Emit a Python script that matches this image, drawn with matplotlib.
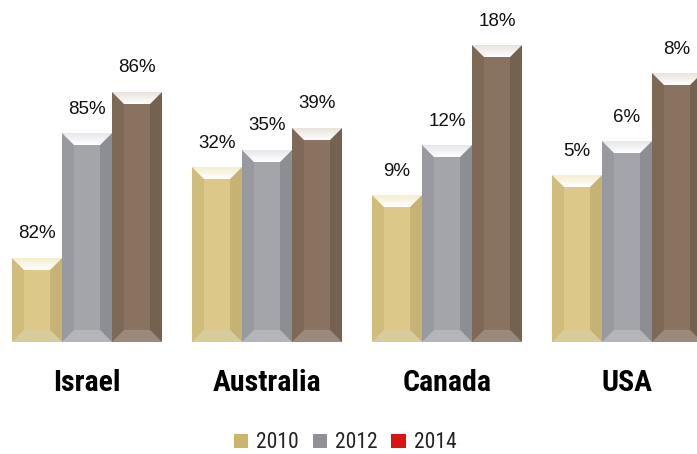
import numpy as np
import matplotlib
matplotlib.use("Agg")
import matplotlib.pyplot as plt
from matplotlib.patches import Polygon, Rectangle

# ---------------- data ----------------
categories = ["Israel", "Australia", "Canada", "USA"]
series = ["2010", "2012", "2014"]
# visual bar heights as drawn in the reference (chart units)
heights_2010 = [84, 175, 147, 167]
heights_2012 = [209, 192, 197, 201]
heights_2014 = [250, 214, 297, 269]
# value labels printed above bars (%)
labels_2010 = [82, 32, 9, 5]
labels_2012 = [85, 35, 12, 6]
labels_2014 = [86, 39, 18, 8]

heights = [heights_2010, heights_2012, heights_2014]
labels = [labels_2010, labels_2012, labels_2014]

# ---------------- styles ----------------
narrow = ["Roboto Condensed", "Archivo Narrow", "DejaVu Sans"]
regular = ["Liberation Sans", "DejaVu Sans"]

bar_styles = [
    dict(mid="#DCC98A", left="#D0BD7C", right="#C5B274", bottom="#D9CC9C", top_end="#F4EDCF"),
    dict(mid="#A4A5AA", left="#999A9F", right="#8D8E93", bottom="#B4B5B9", top_end="#E6E7EA"),
    dict(mid="#8A7260", left="#7E6856", right="#75614F", bottom="#9B8A7B", top_end="#E9E3DC"),
]
legend_colors = ["#C9B66C", "#8F9196", "#D81414"]

W, H = 697, 454
base = 342
fig = plt.figure(figsize=(W / 100, H / 100), dpi=100)
ax = fig.add_axes([0, (H - base) / H, 1, base / H])
ax.axis("off")

bar_w = 50
group_step = 180
x0_first = 12 + bar_w / 2
x = x0_first + np.arange(len(categories)) * group_step
b = 12

for si in range(len(series)):
    st = bar_styles[si]
    bars = ax.bar(x + si * bar_w, heights[si], width=bar_w, color=st["mid"],
                  linewidth=0, clip_on=False, zorder=2)
    for bi, p in enumerate(bars.patches):
        x0 = p.get_x(); x1 = x0 + p.get_width()
        y0 = p.get_y(); y1 = y0 + p.get_height()
        ax.add_patch(Polygon([(x0, y0), (x0 + b, y0 + b), (x0 + b, y1 - b), (x0, y1)],
                             closed=True, color=st["left"], lw=0, zorder=3, clip_on=False))
        ax.add_patch(Polygon([(x1, y0), (x1, y1), (x1 - b, y1 - b), (x1 - b, y0 + b)],
                             closed=True, color=st["right"], lw=0, zorder=3, clip_on=False))
        ax.add_patch(Polygon([(x0, y0), (x1, y0), (x1 - b, y0 + b), (x0 + b, y0 + b)],
                             closed=True, color=st["bottom"], lw=0, zorder=3, clip_on=False))
        top = Polygon([(x0, y1), (x1, y1), (x1 - b, y1 - b), (x0 + b, y1 - b)],
                      closed=True, facecolor="none", lw=0, zorder=4, clip_on=False)
        ax.add_patch(top)
        c_end = np.array(matplotlib.colors.to_rgb(st["top_end"]))
        grad = np.linspace(0, 1, 32)[:, None]
        img = (1 - grad)[..., None] * np.ones(3) + grad[..., None] * c_end
        img = np.repeat(img, 2, axis=1)
        im = ax.imshow(img, extent=(x0, x1, y1, y1 - b), aspect="auto",
                       zorder=4, interpolation="bilinear")
        im.set_clip_path(top)
        ax.text(p.get_x() + p.get_width() / 2, y1 + 24, f"{labels[si][bi]}%",
                ha="center", va="center", fontsize=13.5, family=regular,
                color="#111111", zorder=5, clip_on=False)

ax.set_xlim(0, W)
ax.set_ylim(0, base)

for ci, cat in enumerate(categories):
    ax.text(x[ci] + bar_w, -49, cat, ha="center", va="baseline", fontsize=21.5,
            fontweight="bold", family=narrow, color="black", clip_on=False)

handles = [Rectangle((0, 0), 1, 1, facecolor=c, edgecolor="none") for c in legend_colors]
leg = fig.legend(handles, series, loc="center", bbox_to_anchor=(0.495, 1 - 443 / H),
                 ncol=3, frameon=False, handlelength=0.68, handleheight=0.68,
                 handletextpad=0.35, columnspacing=0.65,
                 prop=dict(family=narrow, size=15.5))
for t in leg.get_texts():
    t.set_color("#222222")

fig.savefig("out.png", dpi=100)
